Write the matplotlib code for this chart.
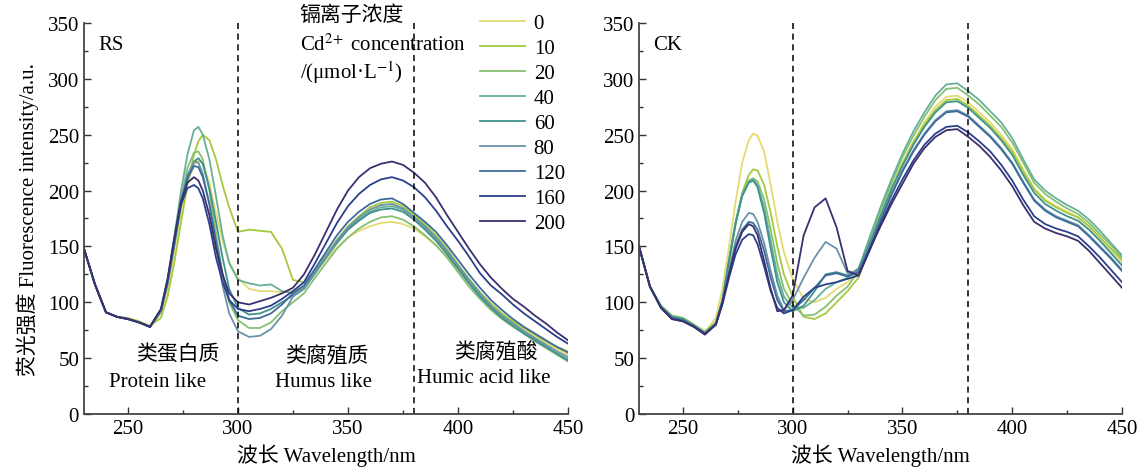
import matplotlib
matplotlib.use("Agg")
from matplotlib import pyplot as plt
from matplotlib.ticker import MultipleLocator

# wavelength grid (nm)
wl = [230, 235, 240, 245, 250, 255, 260, 265,
      268, 271, 274, 277, 280, 282, 284, 287, 290, 293, 296,
      300, 305, 310, 315, 320, 325,
      330, 335, 340, 345, 350, 355, 360, 365, 370, 375, 380, 385, 390, 395,
      400, 405, 410, 415, 420, 425, 430, 435, 440, 445, 450]

concs = ["0", "10", "20", "40", "60", "80", "120", "160", "200"]
colors = ["#e3db72", "#a5c93c", "#86c073", "#66b196", "#3f918d",
          "#6a92a8", "#3d6c9c", "#2b3f8c", "#3b2f6e"]

# RS panel
rs_0 = [148, 116, 91, 87, 85, 82, 78, 90, 112, 145, 180, 207, 223, 227, 224, 207, 180, 155, 136, 122, 112, 110, 110, 109, 110, 114, 126, 138, 149, 158, 164, 168, 171, 172, 170, 166, 159, 151, 141, 129, 117, 106, 97, 89, 82, 76, 70, 64, 58, 53]
rs_10 = [148, 116, 91, 87, 86, 83, 79, 86, 105, 135, 170, 205, 232, 244, 250, 245, 228, 205, 185, 163, 165, 164, 163, 148, 120, 118, 128, 142, 156, 168, 177, 185, 189, 190, 186, 178, 170, 160, 148, 134, 121, 109, 99, 90, 83, 77, 71, 65, 60, 56]
rs_20 = [148, 116, 91, 87, 85, 82, 78, 92, 118, 155, 192, 220, 234, 235, 228, 200, 162, 125, 100, 84, 77, 77, 82, 92, 100, 108, 122, 135, 148, 158, 166, 172, 176, 177, 174, 168, 160, 151, 140, 127, 114, 103, 93, 85, 78, 72, 65, 59, 53, 47]
rs_40 = [148, 116, 91, 87, 85, 82, 78, 93, 120, 158, 198, 232, 254, 257, 250, 228, 195, 160, 135, 120, 117, 115, 116, 110, 108, 114, 128, 142, 155, 166, 174, 181, 185, 186, 183, 176, 167, 157, 145, 131, 118, 106, 96, 88, 81, 74, 67, 60, 54, 49]
rs_60 = [148, 116, 91, 87, 85, 82, 78, 92, 116, 150, 185, 210, 226, 229, 224, 202, 172, 140, 112, 95, 89, 90, 94, 100, 106, 112, 126, 140, 153, 165, 173, 180, 183, 184, 181, 174, 165, 155, 143, 130, 117, 105, 95, 86, 79, 72, 66, 60, 54, 48]
rs_80 = [148, 116, 91, 87, 85, 82, 78, 92, 118, 153, 190, 214, 226, 225, 215, 188, 150, 115, 90, 74, 69, 70, 76, 88, 105, 112, 126, 140, 155, 167, 176, 183, 187, 188, 184, 176, 168, 158, 146, 133, 120, 108, 97, 88, 81, 74, 68, 62, 56, 51]
rs_120 = [148, 116, 91, 87, 85, 82, 78, 93, 118, 152, 188, 211, 222, 221, 212, 188, 155, 125, 102, 88, 85, 86, 90, 98, 108, 115, 130, 145, 160, 172, 181, 188, 192, 193, 188, 180, 172, 163, 151, 138, 125, 113, 102, 93, 85, 78, 72, 66, 60, 55]
rs_160 = [148, 116, 91, 87, 85, 82, 78, 94, 120, 155, 187, 202, 205, 202, 193, 170, 140, 118, 102, 94, 92, 94, 97, 103, 110, 118, 135, 153, 171, 186, 197, 205, 210, 212, 209, 203, 194, 182, 168, 155, 141, 126, 115, 107, 98, 90, 83, 76, 69, 63]
rs_200 = [148, 116, 91, 87, 85, 82, 78, 94, 121, 157, 190, 207, 212, 209, 200, 178, 148, 125, 108, 100, 98, 101, 104, 108, 113, 125, 143, 163, 183, 200, 212, 220, 224, 226, 223, 216, 207, 194, 178, 163, 148, 134, 122, 112, 103, 96, 88, 81, 73, 66]

# CK panel
ck_0 = [150, 114, 96, 86, 84, 79, 73, 86, 112, 150, 190, 225, 245, 251, 249, 235, 205, 172, 145, 121, 103, 100, 104, 112, 118, 128, 152, 178, 203, 225, 244, 261, 275, 284, 285, 279, 270, 261, 250, 237, 219, 202, 192, 186, 181, 176, 168, 158, 147, 136]
ck_10 = [150, 114, 97, 88, 86, 80, 74, 82, 100, 135, 170, 198, 214, 219, 218, 205, 180, 150, 125, 105, 87, 85, 90, 100, 110, 122, 150, 177, 202, 224, 243, 259, 272, 281, 282, 276, 267, 258, 247, 235, 217, 201, 191, 185, 180, 176, 168, 158, 148, 138]
ck_20 = [150, 114, 97, 88, 86, 80, 73, 82, 102, 138, 172, 197, 209, 211, 208, 192, 165, 135, 112, 98, 88, 89, 96, 106, 114, 128, 155, 182, 207, 230, 249, 266, 281, 291, 292, 285, 277, 267, 257, 243, 225, 207, 197, 190, 184, 179, 171, 161, 151, 140]
ck_40 = [150, 114, 96, 87, 85, 79, 72, 81, 102, 138, 172, 196, 208, 210, 205, 185, 155, 125, 105, 95, 95, 102, 112, 118, 122, 130, 158, 185, 210, 233, 253, 270, 285, 295, 296, 289, 281, 271, 261, 247, 228, 210, 200, 193, 187, 182, 174, 164, 153, 142]
ck_60 = [150, 114, 96, 87, 85, 79, 72, 81, 102, 137, 170, 195, 207, 209, 203, 180, 148, 118, 100, 92, 97, 110, 125, 127, 124, 130, 152, 177, 201, 222, 241, 257, 270, 279, 280, 274, 265, 256, 245, 232, 214, 198, 188, 182, 177, 173, 165, 155, 144, 133]
ck_80 = [150, 114, 96, 86, 84, 79, 72, 80, 100, 128, 155, 172, 180, 179, 172, 153, 128, 106, 93, 102, 122, 140, 154, 148, 126, 128, 150, 174, 197, 218, 236, 251, 263, 271, 272, 267, 258, 249, 238, 225, 208, 192, 183, 177, 173, 169, 160, 150, 140, 129]
ck_120 = [150, 114, 96, 86, 84, 79, 72, 80, 100, 126, 150, 165, 172, 171, 165, 146, 122, 102, 92, 93, 102, 113, 124, 126, 123, 127, 149, 173, 196, 217, 235, 250, 262, 270, 271, 266, 257, 248, 237, 224, 207, 191, 182, 176, 172, 168, 159, 149, 139, 128]
ck_160 = [150, 114, 95, 85, 83, 78, 72, 80, 98, 122, 143, 156, 161, 160, 152, 132, 110, 95, 90, 93, 105, 113, 116, 118, 121, 124, 146, 170, 191, 210, 227, 241, 251, 257, 258, 252, 244, 235, 223, 209, 192, 177, 170, 166, 163, 159, 150, 140, 129, 118]
ck_200 = [150, 114, 95, 85, 83, 78, 71, 80, 100, 125, 148, 163, 170, 168, 160, 137, 112, 92, 93, 106, 160, 185, 193, 167, 128, 124, 147, 168, 188, 206, 224, 238, 248, 254, 255, 248, 240, 230, 218, 204, 187, 172, 166, 162, 159, 155, 146, 135, 124, 113]

rs_series = [rs_0, rs_10, rs_20, rs_40, rs_60, rs_80, rs_120, rs_160, rs_200]
ck_series = [ck_0, ck_10, ck_20, ck_40, ck_60, ck_80, ck_120, ck_160, ck_200]

plt.rcParams["font.family"] = ["Liberation Serif", "Noto Sans CJK SC"]
plt.rcParams["mathtext.fontset"] = "stix"
plt.rcParams["font.size"] = 15
plt.rcParams["axes.unicode_minus"] = False

fig = plt.figure(figsize=(11.47, 4.77), dpi=100)
ax1 = fig.add_axes([0.0732, 0.130, 0.422, 0.8197])
ax2 = fig.add_axes([0.5571, 0.130, 0.4211, 0.8197])

for ax, series, tag in [(ax1, rs_series, "RS"), (ax2, ck_series, "CK")]:
    for vals, c, lab in zip(series, colors, concs):
        ax.plot(wl, vals, color=c, lw=1.3, label=lab)
    for xv in (300, 380):
        ax.axvline(xv, color="black", lw=1.1, ls=(0, (4, 3)))
    ax.set_xlim(230, 450)
    ax.set_ylim(0, 350)
    ax.xaxis.set_major_locator(MultipleLocator(50))
    ax.xaxis.set_minor_locator(MultipleLocator(25))
    ax.yaxis.set_major_locator(MultipleLocator(50))
    ax.yaxis.set_minor_locator(MultipleLocator(25))
    ax.tick_params(which="both", direction="in", colors="#333333", labelcolor="black", labelsize=15)
    ax.tick_params(which="major", length=5, width=1)
    ax.tick_params(which="minor", length=3, width=1)
    ax.spines["top"].set_visible(False)
    ax.spines["right"].set_visible(False)
    for s in ("left", "bottom"):
        ax.spines[s].set_color("#444444")
        ax.spines[s].set_linewidth(1.3)
    ax.set_xlabel("波长 Wavelength/nm", fontsize=15, labelpad=4)
    ax.text(0.03, 0.946, tag, transform=ax.transAxes, fontsize=15, va="center", ha="left")

ax1.set_ylabel("荧光强度 Fluorescence intensity/a.u.", fontsize=15, labelpad=6)

# region labels
ax1.text(272.7, 54, "类蛋白质", ha="center", va="center", fontsize=15)
ax1.text(263.6, 29, "Protein like", ha="center", va="center", fontsize=15)
ax1.text(340.5, 52, "类腐殖质", ha="center", va="center", fontsize=15)
ax1.text(339, 29, "Humus like", ha="center", va="center", fontsize=15)
ax1.text(417, 55, "类腐殖酸", ha="center", va="center", fontsize=15)
ax1.text(411.8, 33, "Humic acid like", ha="center", va="center", fontsize=15)

# legend title
ax1.text(328, 357, "镉离子浓度", ha="left", va="center", fontsize=15, clip_on=False)
ax1.text(328, 331, r"Cd$^{2\!+}$ concentration", ha="left", va="center", fontsize=15, clip_on=False)
ax1.text(328, 306, "/(μmol·L$^{-1}$)", ha="left", va="center", fontsize=15, clip_on=False)

ax1.legend(loc="upper left", bbox_to_anchor=(0.80, 1.045), frameon=False,
           handlelength=2.2, handletextpad=0.4, labelspacing=0.26,
           borderaxespad=0, fontsize=15)

fig.savefig("out.png", dpi=100)
